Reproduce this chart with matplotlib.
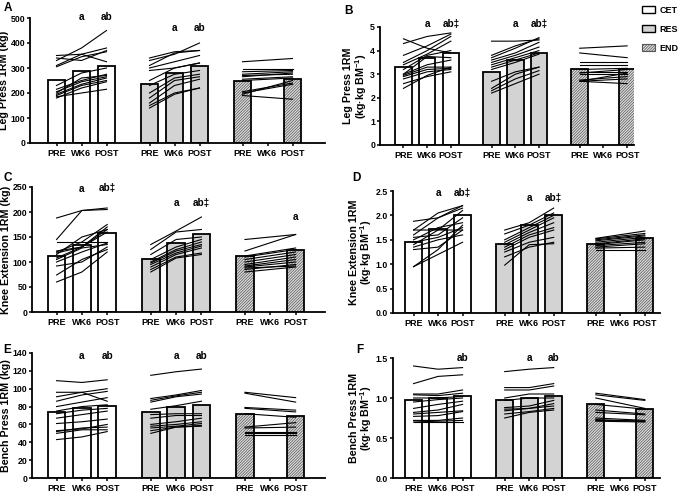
import matplotlib
matplotlib.use("Agg")
import matplotlib.pyplot as plt
from matplotlib.patches import Patch

plt.rcParams['font.family'] = ['Liberation Sans', 'DejaVu Sans']
plt.rcParams['font.weight'] = 'bold'
plt.rcParams['mathtext.fontset'] = 'custom'
plt.rcParams['mathtext.rm'] = 'Liberation Sans:bold'
plt.rcParams['mathtext.default'] = 'rm'
plt.rcParams['hatch.linewidth'] = 0.5

tick_labels = ["PRE", "WK6", "POST"] * 3
groups = ["CET", "RES", "END"]

# ---- A: leg press absolute (kg)
a_bars_cet = [252, 290, 310]
a_bars_res = [237, 282, 308]
a_bars_end = [250, 258]
a_cet = [[350, 355, 325], [330, 380, 450], [340, 330, 370], [310, 355, 380],
         [305, 345, 365], [230, 280, 300], [215, 250, 275], [205, 245, 265],
         [195, 235, 260], [190, 230, 250], [180, 220, 245], [185, 200, 215],
         [200, 260, 270]]
a_res = [[340, 365, 370], [330, 355, 400], [310, 360, 370], [300, 325, 350],
         [290, 300, 320], [250, 300, 320], [230, 275, 290], [200, 260, 275],
         [180, 250, 265], [160, 230, 255], [150, 200, 220], [140, 195, 220]]
a_end = [[325, 338], [295, 295], [285, 290], [275, 285], [270, 275], [265, 280],
         [255, 265], [250, 260], [205, 240], [200, 235], [195, 250], [190, 175]]

# ---- B: leg press relative
b_bars_cet = [3.3, 3.7, 3.9]
b_bars_res = [3.1, 3.6, 3.9]
b_bars_end = [3.2, 3.2]
b_cet = [[4.5, 4.1, 3.9], [4.3, 4.6, 4.75], [3.8, 4.2, 4.7], [3.5, 4.0, 4.6],
         [3.4, 3.85, 4.4], [3.2, 3.8, 4.0], [3.0, 3.75, 3.7], [3.0, 3.4, 3.6],
         [2.95, 3.3, 3.3], [2.9, 3.2, 3.25], [2.8, 3.1, 3.2], [2.6, 2.9, 3.1],
         [2.4, 2.95, 3.3]]
b_res = [[4.4, 4.4, 4.45], [3.8, 4.2, 4.5], [3.7, 4.1, 4.55], [3.6, 3.9, 4.35],
         [3.5, 3.8, 4.15], [3.4, 3.7, 4.0], [3.3, 3.6, 3.9], [3.2, 3.5, 3.85],
         [2.7, 3.1, 3.3], [2.4, 3.0, 3.3], [2.3, 2.8, 3.15], [2.2, 2.6, 3.0]]
b_end = [[4.1, 4.2], [3.9, 3.7], [3.5, 3.5], [3.4, 3.4], [3.2, 3.25], [3.1, 3.1],
         [3.05, 3.2], [3.0, 3.0], [2.75, 2.9], [2.7, 3.05], [2.7, 2.8], [2.7, 2.6]]

# ---- C: knee extension absolute (kg)
c_bars_cet = [112, 135, 158]
c_bars_res = [106, 138, 156]
c_bars_end = [112, 125]
c_cet = [[188, 203, 205], [145, 203, 208], [140, 140, 140], [122, 130, 170],
         [120, 140, 175], [118, 130, 165], [115, 150, 165], [108, 130, 160],
         [105, 128, 135], [100, 120, 138], [92, 100, 130], [74, 105, 125],
         [60, 80, 120]]
c_res = [[135, 162, 190], [125, 160, 165], [115, 145, 150], [105, 130, 145],
         [100, 125, 140], [98, 122, 135], [95, 118, 132], [90, 115, 128],
         [85, 110, 118], [80, 108, 115]]
c_end = [[145, 155], [122, 155], [112, 128], [110, 125], [105, 120], [100, 115],
         [95, 110], [92, 105], [90, 100], [88, 92], [85, 95], [80, 90]]

# ---- D: knee extension relative
d_bars_cet = [1.45, 1.73, 2.0]
d_bars_res = [1.41, 1.8, 2.0]
d_bars_end = [1.41, 1.54]
d_cet = [[1.88, 1.95, 2.2], [1.7, 2.05, 2.2], [1.7, 1.7, 2.1], [1.6, 1.95, 2.15],
         [1.55, 1.6, 1.95], [1.5, 1.75, 1.85], [1.45, 1.55, 1.75], [1.4, 1.7, 1.7],
         [1.35, 1.5, 1.6], [1.3, 1.35, 1.7], [0.95, 1.3, 1.8], [0.95, 1.2, 1.45]]
d_res = [[1.7, 1.85, 2.15], [1.62, 1.8, 2.05], [1.5, 1.75, 2.0], [1.45, 1.7, 1.95],
         [1.4, 1.65, 1.85], [1.35, 1.6, 1.75], [1.3, 1.55, 1.7], [1.25, 1.45, 1.55],
         [1.15, 1.35, 1.45], [0.98, 1.4, 1.42]]
d_end = [[1.53, 1.68], [1.52, 1.63], [1.5, 1.6], [1.48, 1.58], [1.45, 1.55],
         [1.42, 1.52], [1.4, 1.5], [1.38, 1.45], [1.35, 1.42], [1.33, 1.35], [1.3, 1.3]]

# ---- E: bench press absolute (kg)
e_bars_cet = [74, 78, 81]
e_bars_res = [74, 79, 82]
e_bars_end = [72, 70]
e_cet = [[109, 107, 110], [96, 96, 86], [91, 96, 100], [86, 93, 97], [80, 85, 90],
         [75, 80, 82], [72, 76, 78], [67, 71, 75], [61, 63, 66], [53, 55, 60],
         [52, 56, 57], [50, 54, 54], [43, 46, 52]]
e_res = [[115, 119, 122], [89, 93, 98], [87, 92, 96], [85, 91, 94], [77, 81, 86],
         [71, 72, 72], [67, 70, 70], [60, 63, 67], [58, 60, 63], [56, 58, 61],
         [53, 57, 59], [50, 57, 58]]
e_end = [[96, 90], [95, 85], [79, 76], [78, 74], [72, 68], [57, 62], [56, 57],
         [52, 52], [50, 50], [48, 48]]

# ---- F: bench press relative
f_bars_cet = [0.97, 1.0, 1.02]
f_bars_res = [0.97, 1.0, 1.03]
f_bars_end = [0.92, 0.86]
f_cet = [[1.4, 1.36, 1.38], [1.18, 1.27, 1.29], [1.05, 1.05, 1.1], [1.04, 1.03, 1.06],
         [1.0, 1.0, 1.02], [0.95, 0.98, 1.0], [0.87, 0.92, 0.96], [0.82, 0.85, 0.92],
         [0.80, 0.82, 0.84], [0.77, 0.78, 0.83], [0.72, 0.72, 0.75], [0.70, 0.71, 0.72],
         [0.70, 0.70, 0.70]]
f_res = [[1.33, 1.36, 1.38], [1.13, 1.13, 1.18], [1.1, 1.1, 1.15], [1.0, 1.05, 1.05],
         [0.97, 1.0, 1.0], [0.88, 0.9, 0.97], [0.86, 0.87, 0.93], [0.84, 0.87, 0.9],
         [0.80, 0.83, 0.87], [0.75, 0.82, 0.85]]
f_end = [[1.06, 0.98], [1.04, 0.97], [1.0, 0.87], [0.92, 0.86], [0.85, 0.80],
         [0.82, 0.79], [0.75, 0.72], [0.73, 0.71], [0.72, 0.71], [0.71, 0.70]]

# x positions of the 9 slots (3 per group)
step = 3.72
xpos = [g * step + i for g in range(3) for i in range(3)]
cet_x = xpos[0:3]
res_x = xpos[3:6]
end_x = [xpos[6], xpos[8]]

HATCH = "/" * 12
fig = plt.figure(figsize=(6.85, 4.92), dpi=100)


def panel(rect, xlim, letter, letter_xy, ylabel, ylim, yticks, fmt,
          bars, lines, marks):
    ax = fig.add_axes(rect)
    kw = dict(width=0.7, edgecolor="black", linewidth=1.3, zorder=2)
    ax.bar(cet_x, bars[0], color="white", **kw)
    ax.bar(res_x, bars[1], color="#d3d3d3", **kw)
    # hatch drawn in gray, then a black outline on top
    ax.bar(end_x, bars[2], width=0.7, color="#dcdcdc", hatch=HATCH,
           edgecolor="#555555", linewidth=0, zorder=2)
    ax.bar(end_x, bars[2], fill=False, **kw)
    for ln in lines[0]:
        ax.plot(cet_x, ln, color="black", lw=0.8, zorder=3)
    for ln in lines[1]:
        ax.plot(res_x, ln, color="black", lw=0.8, zorder=3)
    for ln in lines[2]:
        ax.plot(end_x, ln, color="black", lw=0.8, zorder=3)
    for x, y, s in marks:
        ax.text(x, y, s, ha="center", va="center", fontsize=7.2,
                fontweight="bold", clip_on=False)
    ax.set_xlim(*xlim)
    ax.set_ylim(*ylim)
    ax.set_yticks(yticks)
    ax.set_yticklabels([fmt.format(t) for t in yticks])
    ax.set_xticks(xpos)
    ax.set_xticklabels(tick_labels)
    ax.tick_params(axis="both", labelsize=6.5, width=1.1, length=2.5, pad=1.5)
    ax.tick_params(axis="y", labelsize=6.3, pad=1)
    for lab in ax.get_xticklabels() + ax.get_yticklabels():
        lab.set_fontweight("bold")
    for s in ("top", "right"):
        ax.spines[s].set_visible(False)
    for s in ("left", "bottom"):
        ax.spines[s].set_linewidth(1.3)
    ax.set_ylabel(ylabel, fontsize=7.7, fontweight="bold", labelpad=1,
                  linespacing=1.0)
    fig.text(letter_xy[0] / 685, 1 - letter_xy[1] / 492, letter,
             fontsize=8.5, fontweight="bold", ha="left", va="center")
    return ax


def r(left, right, top, bottom):
    return [left / 685, 1 - bottom / 492, (right - left) / 685, (bottom - top) / 492]


panel(r(30, 325, 18, 143), (-1.06, 10.74), "A", (4, 8), "Leg Press 1RM (kg)",
      (0, 500), [0, 100, 200, 300, 400, 500], "{:g}",
      [a_bars_cet, a_bars_res, a_bars_end], [a_cet, a_res, a_end],
      [(xpos[1], 504, "a"), (xpos[2], 504, "ab"), (xpos[4], 460, "a"), (xpos[5], 460, "ab")])

panel(r(380, 634, 27, 145), (-0.99, 9.73), "B", (344, 11),
      "Leg Press 1RM\n(kg·kg BM$^{-1}$)",
      (0, 5), [0, 1, 2, 3, 4, 5], "{:g}",
      [b_bars_cet, b_bars_res, b_bars_end], [b_cet, b_res, b_end],
      [(xpos[1], 5.14, "a"), (xpos[2], 5.14, "ab‡"), (xpos[4], 5.14, "a"), (xpos[5], 5.14, "ab‡")])

panel(r(32, 325, 187, 312), (-0.97, 10.6), "C", (3, 178), "Knee Extension 1RM (kg)",
      (0, 250), [0, 50, 100, 150, 200, 250], "{:g}",
      [c_bars_cet, c_bars_res, c_bars_end], [c_cet, c_res, c_end],
      [(xpos[1], 247, "a"), (xpos[2], 247, "ab‡"), (xpos[4], 218, "a"),
       (xpos[5], 218, "ab‡"), (xpos[8], 190, "a")])

panel(r(393, 660, 191, 313), (-0.84, 10.06), "D", (352, 178),
      "Knee Extension 1RM\n(kg·kg BM$^{-1}$)",
      (0, 2.5), [0, 0.5, 1.0, 1.5, 2.0, 2.5], "{:.1f}",
      [d_bars_cet, d_bars_res, d_bars_end], [d_cet, d_res, d_end],
      [(xpos[1], 2.45, "a"), (xpos[2], 2.45, "ab‡"), (xpos[4], 2.36, "a"), (xpos[5], 2.36, "ab‡")])

panel(r(32, 325, 353, 478), (-0.97, 10.6), "E", (3, 350), "Bench Press 1RM (kg)",
      (0, 140), [0, 20, 40, 60, 80, 100, 120, 140], "{:g}",
      [e_bars_cet, e_bars_res, e_bars_end], [e_cet, e_res, e_end],
      [(xpos[1], 137, "a"), (xpos[2], 137, "ab"), (xpos[4], 137, "a"), (xpos[5], 137, "ab")])

panel(r(393, 660, 358, 478), (-0.84, 10.06), "F", (356, 350),
      "Bench Press 1RM\n(kg·kg BM$^{-1}$)",
      (0, 1.5), [0, 0.5, 1.0, 1.5], "{:.1f}",
      [f_bars_cet, f_bars_res, f_bars_end], [f_cet, f_res, f_end],
      [(xpos[2], 1.5, "ab"), (xpos[4], 1.5, "a"), (xpos[5], 1.5, "ab")])

handles = [Patch(facecolor="white", edgecolor="black", linewidth=1.0),
           Patch(facecolor="#d3d3d3", edgecolor="black", linewidth=1.0),
           Patch(facecolor="#dcdcdc", edgecolor="#555555", linewidth=0.8, hatch=HATCH)]
leg = fig.legend(handles, groups, loc="upper left", bbox_to_anchor=(642 / 685, 1 - 6 / 492),
                 frameon=False, fontsize=6.5, handlelength=1.4, handleheight=0.8,
                 labelspacing=1.1, handletextpad=0.5, borderaxespad=0,
                 borderpad=0)
for t in leg.get_texts():
    t.set_fontweight("bold")

fig.savefig("out.png", dpi=100)
